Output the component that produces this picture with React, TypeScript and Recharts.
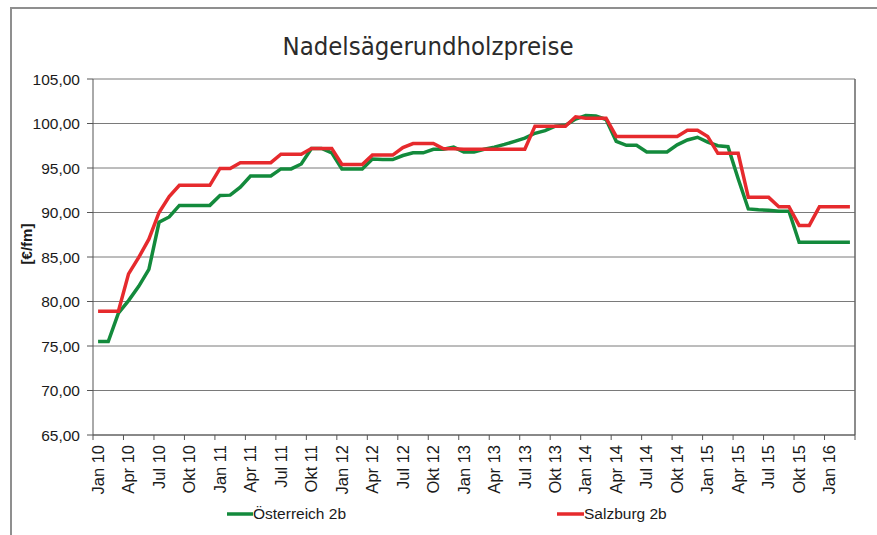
import React from 'react';
import { LineChart, Line, XAxis, YAxis, CartesianGrid, ReferenceLine } from 'recharts';

const monthNames = ['Jan', 'Feb', 'Mär', 'Apr', 'Mai', 'Jun', 'Jul', 'Aug', 'Sep', 'Okt', 'Nov', 'Dez'];
const years = ['10', '11', '12', '13', '14', '15', '16'];
const categories: string[] = years
  .flatMap((y) => monthNames.map((m) => `${m} ${y}`))
  .slice(0, 75);

const oesterreich = [
  75.5, 75.5, 78.7, 80.1, 81.7, 83.6, 88.9, 89.5, 90.8, 90.8, 90.8, 90.8,
  91.9, 91.95, 92.85, 94.1, 94.1, 94.1, 94.9, 94.9, 95.45, 97.2, 97.2, 96.7,
  94.9, 94.9, 94.9, 96.0, 95.95, 95.95, 96.4, 96.7, 96.7, 97.1, 97.1, 97.35,
  96.8, 96.8, 97.1, 97.35, 97.65, 98.0, 98.35, 98.9, 99.2, 99.7, 99.8, 100.5,
  100.9, 100.85, 100.45, 98.0, 97.55, 97.55, 96.8, 96.8, 96.8, 97.6, 98.15, 98.45,
  97.9, 97.5, 97.4, 93.8, 90.4, 90.3, 90.25, 90.15, 90.15, 86.65, 86.65, 86.65,
  86.65, 86.65, 86.65,
];

const salzburg = [
  78.9, 78.9, 78.9, 83.1, 84.95, 87.0, 90.0, 91.8, 93.05, 93.05, 93.05, 93.05,
  94.95, 94.95, 95.6, 95.6, 95.6, 95.6, 96.55, 96.55, 96.55, 97.2, 97.2, 97.2,
  95.4, 95.4, 95.4, 96.45, 96.45, 96.45, 97.3, 97.75, 97.75, 97.75, 97.15, 97.15,
  97.1, 97.1, 97.1, 97.1, 97.1, 97.1, 97.1, 99.7, 99.7, 99.7, 99.7, 100.75,
  100.6, 100.6, 100.6, 98.55, 98.55, 98.55, 98.55, 98.55, 98.55, 98.55, 99.25, 99.25,
  98.55, 96.65, 96.65, 96.65, 91.7, 91.7, 91.7, 90.65, 90.65, 88.55, 88.55, 90.65,
  90.65, 90.65, 90.65,
];

const seriesNames = ['Österreich 2b', 'Salzburg 2b'];
const seriesColors = ['#138a3c', '#e62a2d'];
const yTicks = [65, 70, 75, 80, 85, 90, 95, 100, 105];
const xTicks = Array.from({ length: 26 }, (_, i) => i * 3);

const data = categories.map((c, i) => ({
  pos: i + 0.5,
  month: c,
  at: oesterreich[i],
  sbg: salzburg[i],
}));

const FONT = "'Liberation Sans', Arial, sans-serif";

const XTick = (props: any) => {
  const { x, y, payload } = props;
  const idx = Math.round(payload.value);
  if (idx >= categories.length) return null;
  return (
    <text
      x={0}
      y={0}
      transform={`translate(${x + 5},${y}) rotate(-90)`}
      textAnchor="end"
      dy="0.35em"
      fontSize={16.5}
      fill="#1a1a1a"
      fontFamily={FONT}
    >
      {categories[idx]}
    </text>
  );
};

export default function App() {
  return (
    <div style={{ position: 'relative', width: 877, height: 535, overflow: 'hidden', background: '#fff' }}>
      <style>{'body{margin:0;}'}</style>
      <div
        style={{
          position: 'absolute',
          left: 10,
          top: 7,
          width: 900,
          height: 600,
          borderLeft: '2px solid #8f8f8f',
          borderTop: '2px solid #8f8f8f',
        }}
      />
      <div style={{ position: 'absolute', left: 0, top: 0 }}>
        <LineChart
          width={877}
          height={535}
          data={data}
          margin={{ top: 79, right: 22, bottom: 40, left: 0 }}
        >
          <CartesianGrid horizontal vertical={false} stroke="#7a7a7a" strokeWidth={1} />
          <XAxis
            dataKey="pos"
            type="number"
            domain={[0, 75]}
            ticks={xTicks}
            interval={0}
            height={60}
            tickSize={5}
            tickMargin={5}
            tick={<XTick />}
            stroke="#555"
            tickLine={{ stroke: '#555' }}
            axisLine={{ stroke: '#555' }}
          />
          <YAxis
            type="number"
            domain={[65, 105]}
            ticks={yTicks}
            width={93}
            tickSize={6}
            tickMargin={7}
            stroke="#555"
            tick={{ fontSize: 15.5, fill: '#1a1a1a', fontFamily: FONT }}
            tickFormatter={(v: number) => v.toFixed(2).replace('.', ',')}
          />
          <ReferenceLine x={75} stroke="#666" strokeWidth={1.5} />
          <Line
            type="linear"
            dataKey="at"
            name={seriesNames[0]}
            stroke={seriesColors[0]}
            strokeWidth={3.5}
            dot={false}
            isAnimationActive={false}
          />
          <Line
            type="linear"
            dataKey="sbg"
            name={seriesNames[1]}
            stroke={seriesColors[1]}
            strokeWidth={3.5}
            dot={false}
            isAnimationActive={false}
          />
        </LineChart>
      </div>
      <svg
        width={877}
        height={535}
        style={{ position: 'absolute', left: 0, top: 0, pointerEvents: 'none' }}
      >
        <text
          x={428}
          y={55}
          textAnchor="middle"
          fontSize={25.5}
          fill="#2b2b2b"
          fontFamily="'DejaVu Sans Condensed', 'DejaVu Sans', sans-serif"
          style={{ fontStretch: 'condensed' }}
        >
          Nadelsägerundholzpreise
        </text>
        <text
          transform="translate(27,244) rotate(-90)"
          textAnchor="middle"
          dy="0.35em"
          fontSize={15}
          fontWeight="bold"
          fill="#1a1a1a"
          fontFamily={FONT}
        >
          [€/fm]
        </text>
        <line x1={227} y1={514} x2={253} y2={514} stroke={seriesColors[0]} strokeWidth={3.5} />
        <text x={253} y={519} fontSize={15.5} fill="#1a1a1a" fontFamily={FONT}>
          {seriesNames[0]}
        </text>
        <line x1={557} y1={514} x2={584} y2={514} stroke={seriesColors[1]} strokeWidth={3.5} />
        <text x={584} y={519} fontSize={15.5} fill="#1a1a1a" fontFamily={FONT}>
          {seriesNames[1]}
        </text>
      </svg>
    </div>
  );
}
